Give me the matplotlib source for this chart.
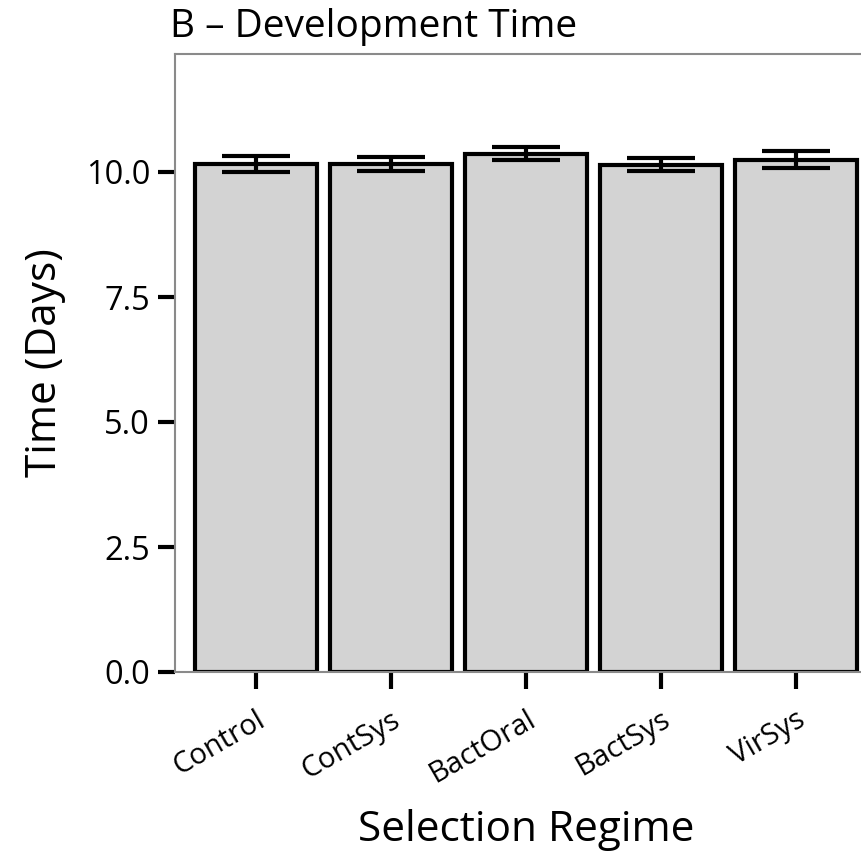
import matplotlib
matplotlib.use("Agg")
import matplotlib.pyplot as plt
import numpy as np

categories = ["Control", "ContSys", "BactOral", "BactSys", "VirSys"]
means = [10.16, 10.16, 10.37, 10.14, 10.24]
errors = [0.16, 0.14, 0.13, 0.13, 0.17]
yticks = [0.0, 2.5, 5.0, 7.5, 10.0]

plt.rcParams['font.family'] = ['Open Sans', 'DejaVu Sans']

fig = plt.figure(figsize=(8.61, 8.59), dpi=100)
ax = fig.add_axes([175/861, (859-672)/859, 702/861, 618/859])

x = np.arange(len(categories))
ax.bar(x, means, width=0.9, color="#d3d3d3", edgecolor="black", linewidth=3, zorder=2)
ax.errorbar(x, means, yerr=errors, fmt="none", ecolor="black", elinewidth=3,
            capsize=24.5, capthick=3, zorder=3)

ax.set_xlim(-0.6, 4.6)
ax.set_ylim(0, 12.36)
ax.set_yticks(yticks)
ax.set_yticklabels([f"{v:.1f}" for v in yticks], fontsize=23.5)
ax.set_xticks(x)
ax.set_xticklabels(categories, rotation=30, ha="right", rotation_mode="anchor", fontsize=21)
ax.tick_params(axis="both", length=12, width=3, color="black")
ax.tick_params(axis="x", pad=12)
ax.tick_params(axis="y", pad=6)

for s in ax.spines.values():
    s.set_color("#8a8a8a")
    s.set_linewidth(1.5)

ax.set_ylabel("Time (Days)", fontsize=30.5, labelpad=14)
ax.set_xlabel("Selection Regime", fontsize=30.5, labelpad=14)
fig.text(170/861, 1 - 37/859, "B – Development Time", fontsize=28, va="baseline", ha="left")

fig.savefig("out.png", dpi=100)
